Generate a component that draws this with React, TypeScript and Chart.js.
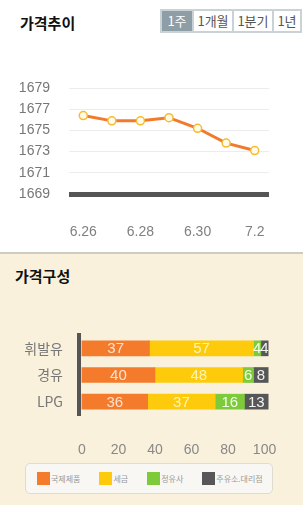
import React, { useEffect, useRef } from 'react';
import { Chart, registerables } from 'chart.js';

Chart.register(...registerables);

// ---- data ----
const tabs = ['1주', '1개월', '1분기', '1년'];
const dates = ['6.26', '6.27', '6.28', '6.29', '6.30', '7.1', '7.2'];
const prices = [1676.4, 1675.9, 1675.9, 1676.2, 1675.2, 1673.8, 1673.1];
const priceTicks = [1669, 1671, 1673, 1675, 1677, 1679];

const fuels = ['휘발유', '경유', 'LPG'];
const componentNames = ['국제제품', '세금', '정유사', '주유소.대리점'];
const intlProduct = [37, 40, 36];
const tax = [57, 48, 37];
const refiner = [4, 6, 16];
const station = [4, 8, 13];
const shareTicks = [0, 20, 40, 60, 80, 100];

const componentColors = ['#f47b2c', '#fdcb0b', '#7dcb3b', '#575757'];
const valueLabelColors = ['#fde3cf', '#fff3b5', '#f2ffe6', '#f2f2f2'];

const FONT = '"Liberation Sans", Arial, "Noto Sans CJK KR", sans-serif';
const KFONT = '"Noto Sans CJK KR", "Liberation Sans", sans-serif';

const barValueLabels = {
  id: 'barValueLabels',
  afterDatasetsDraw(chart: any) {
    const ctx = chart.ctx;
    ctx.save();
    ctx.font = '15px ' + FONT;
    ctx.textAlign = 'center';
    ctx.textBaseline = 'middle';
    chart.data.datasets.forEach((ds: any, di: number) => {
      const meta = chart.getDatasetMeta(di);
      meta.data.forEach((el: any, i: number) => {
        const p = el.getProps(['x', 'y', 'base'], true);
        ctx.fillStyle = valueLabelColors[di];
        ctx.fillText(String(ds.data[i]), (p.x + p.base) / 2, p.y + 1);
      });
    });
    ctx.restore();
  },
};

export default function App() {
  const lineRef = useRef<HTMLCanvasElement | null>(null);
  const barRef = useRef<HTMLCanvasElement | null>(null);

  useEffect(() => {
    document.body.style.margin = '0';
    Chart.defaults.font.family = FONT;

    const lineChart = new Chart(lineRef.current as HTMLCanvasElement, {
      type: 'line',
      data: {
        labels: dates,
        datasets: [
          {
            data: prices,
            borderColor: '#f27a2d',
            borderWidth: 3,
            pointRadius: 4,
            pointBackgroundColor: '#fffbe8',
            pointBorderColor: '#f6bb33',
            pointBorderWidth: 1.5,
            tension: 0,
          },
        ],
      },
      options: {
        animation: false,
        responsive: false,
        layout: { padding: { top: 28, right: 34, left: 0, bottom: 0 } },
        plugins: { legend: { display: false }, tooltip: { enabled: false } },
        scales: {
          x: {
            offset: true,
            grid: { display: false },
            border: { display: false },
            ticks: {
              autoSkip: false,
              maxRotation: 0,
              padding: 22,
              color: '#808080',
              font: { size: 14, family: FONT },
              callback: (_v: any, i: number) => (i % 2 === 0 ? dates[i] : ''),
            },
            afterFit: (s: any) => {
              s.height = 46;
            },
          },
          y: {
            min: priceTicks[0],
            max: priceTicks[priceTicks.length - 1],
            afterBuildTicks: (s: any) => {
              s.ticks = priceTicks.map((v) => ({ value: v }));
            },
            grid: {
              drawTicks: false,
              color: (c: any) => (c.tick && c.tick.value === priceTicks[0] ? '#555' : '#ececec'),
              lineWidth: (c: any) => (c.tick && c.tick.value === priceTicks[0] ? 5 : 1),
            },
            border: { display: false },
            ticks: {
              padding: 19,
              color: '#777',
              font: { size: 14, family: FONT },
              callback: (v: any) => String(v),
            },
            afterFit: (s: any) => {
              s.width = 69;
            },
          },
        },
      },
    } as any);

    const series = [intlProduct, tax, refiner, station];
    const barChart = new Chart(barRef.current as HTMLCanvasElement, {
      type: 'bar',
      data: {
        labels: fuels,
        datasets: componentNames.map((n, i) => ({
          label: n,
          data: series[i],
          backgroundColor: componentColors[i],
          barThickness: 15,
          borderWidth: 0,
        })),
      },
      options: {
        indexAxis: 'y',
        animation: false,
        responsive: false,
        layout: { padding: { top: 25, right: 33, left: 0, bottom: 0 } },
        plugins: { legend: { display: false }, tooltip: { enabled: false } },
        scales: {
          x: {
            stacked: true,
            min: -1.6,
            max: 103,
            afterBuildTicks: (s: any) => {
              s.ticks = shareTicks.map((v) => ({ value: v }));
            },
            grid: { display: false },
            border: { display: false },
            ticks: { padding: 19, color: '#888', font: { size: 14, family: FONT } },
            afterFit: (s: any) => {
              s.height = 45;
            },
          },
          y: {
            stacked: true,
            grid: { display: false, drawTicks: false },
            border: { display: true, color: '#555', width: 4 },
            ticks: { padding: 16, color: '#777', font: { size: 14, family: KFONT } },
            afterFit: (s: any) => {
              s.width = 79;
            },
          },
        },
      },
      plugins: [barValueLabels],
    } as any);

    return () => {
      lineChart.destroy();
      barChart.destroy();
    };
  }, []);

  return (
    <div style={{ position: 'relative', width: 303, height: 505, overflow: 'hidden', background: '#fff', fontFamily: KFONT }}>
      <div
        style={{
          position: 'absolute',
          left: 20,
          top: 12,
          fontSize: 15,
          fontWeight: 700,
          color: '#111',
          lineHeight: '22px',
        }}
      >
        가격추이
      </div>
      <div
        style={{
          position: 'absolute',
          left: 160,
          top: 9,
          width: 142,
          height: 24,
          boxSizing: 'border-box',
          background: '#c9d3d6',
          padding: 2,
          display: 'flex',
          gap: 2,
        }}
      >
        {tabs.map((t, i) => (
          <div
            key={t}
            style={{
              flex: i === 0 ? '0 0 30px' : '1 1 auto',
              background: i === 0 ? '#8d9ea6' : '#fff',
              color: i === 0 ? '#fff' : '#555',
              fontSize: 13,
              lineHeight: '20px',
              textAlign: 'center',
              whiteSpace: 'nowrap',
            }}
          >
            {t}
          </div>
        ))}
      </div>
      <canvas ref={lineRef} width={303} height={180} style={{ position: 'absolute', left: 0, top: 60, width: 303, height: 180 }} />

      <div
        style={{
          position: 'absolute',
          left: 0,
          top: 252,
          width: 303,
          height: 253,
          background: '#f9f1dc',
          borderTop: '2px solid #cfcbc2',
          boxSizing: 'border-box',
        }}
      />
      <div
        style={{
          position: 'absolute',
          left: 15,
          top: 265,
          fontSize: 15,
          fontWeight: 700,
          color: '#111',
          lineHeight: '22px',
        }}
      >
        가격구성
      </div>
      <canvas ref={barRef} width={303} height={150} style={{ position: 'absolute', left: 0, top: 310, width: 303, height: 150 }} />

      <div
        style={{
          position: 'absolute',
          left: 25,
          top: 463,
          width: 248,
          height: 31,
          boxSizing: 'border-box',
          border: '1px solid #dedbd3',
          borderRadius: 5,
          background: '#f8f7f4',
          display: 'flex',
          alignItems: 'center',
          paddingLeft: 11,
          gap: 19,
        }}
      >
        {componentNames.map((n, i) => (
          <div key={n} style={{ display: 'flex', alignItems: 'center' }}>
            <div style={{ width: 13, height: 13, background: componentColors[i] }} />
            <span style={{ fontSize: 8, color: '#999', lineHeight: '13px', marginLeft: 1 }}>{n}</span>
          </div>
        ))}
      </div>
    </div>
  );
}
